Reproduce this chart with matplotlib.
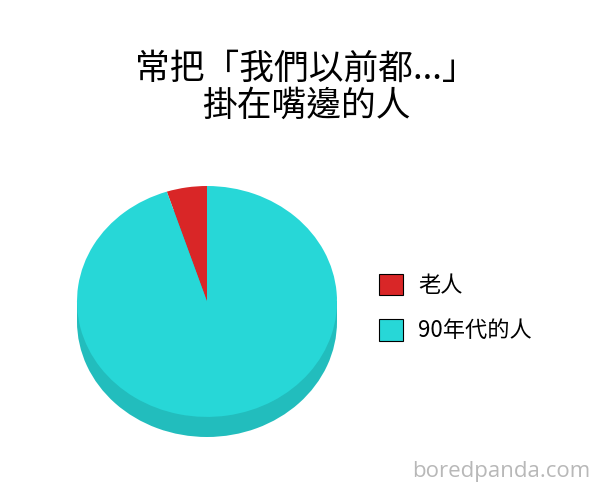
import matplotlib
matplotlib.use("Agg")
import matplotlib.pyplot as plt
from matplotlib.patches import Rectangle, Patch

# Data
title_text = "常把「我們以前都...」\n掛在嘴邊的人"
categories = ["老人", "90年代的人"]
values = [5, 95]
colors = ["#D92627", "#27D7D7"]
side_color = "#22BDBD"
watermark = "boredpanda.com"

W, H = 605, 500
fig = plt.figure(figsize=(W / 100, H / 100), dpi=100)
fig.patch.set_facecolor("white")

# pie axes: spans pixels x 77..337, y 186..437
depth = 20 / 115.0
ax = fig.add_axes([77 / W, (H - 437) / H, 260 / W, 251 / H])
# side (extrusion)
ax.pie([sum(values)], colors=[side_color], startangle=90, center=(0, -depth),
       wedgeprops=dict(linewidth=0))
ax.add_patch(Rectangle((-1, -depth), 2, depth, facecolor=side_color, linewidth=0))
# top face
ax.pie(values, colors=colors, startangle=90, counterclock=True,
       wedgeprops=dict(linewidth=0, antialiased=True))
ax.set_aspect("auto")
ax.set_xlim(-1, 1)
ax.set_ylim(-1 - depth, 1)
ax.axis("off")

cjk = ["Noto Sans CJK TC", "DejaVu Sans"]

fig.text(306 / W, 1 - 52 / H, title_text, ha="center", va="top",
         fontsize=25, family=cjk, linespacing=1.08, color="black")

handles = [Patch(facecolor=c, edgecolor="black", linewidth=0.8) for c in colors]
leg = fig.legend(handles, categories, loc="upper left",
                 bbox_to_anchor=(361 / W, 1 - 256 / H),
                 frameon=False, prop=dict(family=cjk, size=16),
                 handlelength=1.1, handleheight=1.1, handletextpad=0.66,
                 labelspacing=1.0, borderpad=0.3)

fig.text(590 / W, 1 - 472 / H, watermark, ha="right", va="center",
         fontsize=16, family="Open Sans", color="#B8B8B8")

fig.savefig("out.png", dpi=100)
